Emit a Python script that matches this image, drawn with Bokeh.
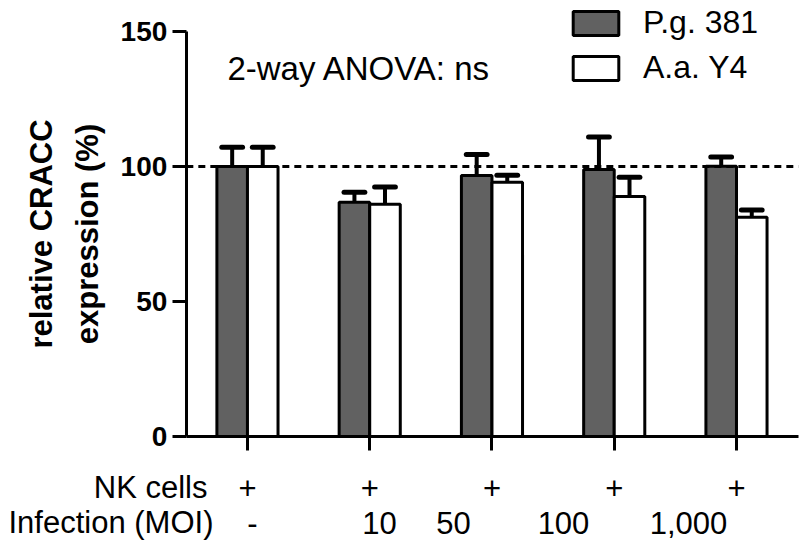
from bokeh.plotting import figure
from bokeh.models import LinearAxis, FixedTicker, ColumnDataSource, Range1d
from bokeh.core.properties import value
from bokeh.embed import file_html
from bokeh.resources import INLINE

# ---- data ----
groups = [0, 1, 2, 3, 4]
nk_labels = ["+", "+", "+", "+", "+"]
moi_labels = ["-", "10", "50", "100", "1,000"]
moi_label_pos = [0.04, 1.08, 1.685, 2.585, 3.607]
row_titles = ["NK cells", "Infection (MOI)"]
row_title_pos = [-0.327, -0.278]
pg_mean = [100, 86.8, 96.7, 98.9, 100.1]
pg_err = [7.1, 3.7, 7.7, 12.0, 3.4]
aa_mean = [100, 86.0, 94.2, 88.9, 81.2]
aa_err = [7.1, 6.4, 2.6, 7.1, 2.7]
y_ticks = [0, 50, 100, 150]
ref_level = 100
series_names = ["P.g. 381", "A.a. Y4"]
anova_text = "2-way ANOVA: ns"

FONT = "Liberation Sans"
DARK = "#616161"
BW = 0.25
CAP = 0.17
AX_X = (-0.5, 4.507)      # x-axis extent (data units)
AX_Y = (0, 150)           # y-axis extent (data units)

p = figure(width=802, height=555, output_backend="svg", toolbar_location=None,
           x_range=Range1d(-2.02, 4.54), y_range=Range1d(-44.07, 161.48),
           x_axis_type=None, y_axis_type=None,
           min_border_left=0, min_border_right=0, min_border_top=0, min_border_bottom=0)
p.outline_line_color = None
p.grid.visible = False

x_pg = [g - BW / 2 for g in groups]
x_aa = [g + BW / 2 for g in groups]

src_pg = ColumnDataSource(dict(x=x_pg, top=pg_mean, err=[m + e for m, e in zip(pg_mean, pg_err)],
                               cl=[x - CAP / 2 for x in x_pg], cr=[x + CAP / 2 for x in x_pg]))
src_aa = ColumnDataSource(dict(x=x_aa, top=aa_mean, err=[m + e for m, e in zip(aa_mean, aa_err)],
                               cl=[x - CAP / 2 for x in x_aa], cr=[x + CAP / 2 for x in x_aa]))

p.vbar(x="x", top="top", width=BW, bottom=0, source=src_pg, fill_color=DARK,
       line_color="black", line_width=3, legend_label=series_names[0])
p.vbar(x="x", top="top", width=BW, bottom=0, source=src_aa, fill_color="white",
       line_color="black", line_width=3, legend_label=series_names[1])

for src in (src_pg, src_aa):
    p.segment(x0="x", y0="top", x1="x", y1="err", source=src, line_color="black", line_width=4)
    p.segment(x0="cl", y0="err", x1="cr", y1="err", source=src, line_color="black",
              line_width=5, line_cap="round")

# dashed reference line at 100 %
p.line(x=list(AX_X), y=[ref_level, ref_level], line_color="black", line_width=3, line_dash="7 5")

# ---- axes (drawn at fixed data locations) ----
yax = LinearAxis(fixed_location=AX_X[0], bounds=AX_Y, ticker=FixedTicker(ticks=y_ticks))
xax = LinearAxis(fixed_location=AX_Y[0], bounds=AX_X, ticker=FixedTicker(ticks=groups))
for ax in (xax, yax):
    ax.axis_line_width = 3
    ax.major_tick_line_width = 3
    ax.major_tick_out = 14
    ax.major_tick_in = 0
    ax.minor_tick_line_color = None

xax.major_label_overrides = {g: "" for g in groups}
xax.major_label_standoff = 0
xax.major_label_text_font_size = "8px"

yax.major_label_text_font = FONT
yax.major_label_text_font_style = "bold"
yax.major_label_text_font_size = "28px"
yax.major_label_text_color = "black"
yax.major_label_standoff = 5
yax.axis_label = "relative CRACC\nexpression (%)"
yax.axis_label_text_font = FONT
yax.axis_label_text_font_style = "bold"
yax.axis_label_text_font_size = "31px"
yax.axis_label_text_color = "black"
yax.axis_label_text_line_height = 1.3
yax.axis_label_standoff = 13

p.add_layout(yax, "left")
p.add_layout(xax, "below")

# ---- legend ----
lg = p.legend[0]
lg.location = (567, 469)
lg.border_line_color = None
lg.background_fill_alpha = 0
lg.padding = 0
lg.margin = 0
lg.glyph_width = 57
lg.glyph_height = 30
lg.label_height = 30
lg.spacing = 8
lg.label_standoff = 19
lg.label_text_font = FONT
lg.label_text_font_size = "32px"
lg.label_text_color = "black"
lg.label_text_baseline = "middle"

# ---- texts ----
p.text(x=[-0.164], y=[136.3], text=[anova_text], text_font=value(FONT), text_font_size="33px",
       text_align="left", text_baseline="middle", text_color="black")

ROW_Y = [-18.9, -31.85]
p.text(x=row_title_pos, y=ROW_Y, text=row_titles, text_font=value(FONT), text_font_size="31px",
       text_align="right", text_baseline="middle", text_color="black")
p.text(x=groups, y=[ROW_Y[0]] * len(groups), text=nk_labels, text_font=value(FONT),
       text_font_size="31px", text_align="center", text_baseline="middle", text_color="black")
p.text(x=moi_label_pos, y=[ROW_Y[1]] * len(moi_labels), text=moi_labels, text_font=value(FONT),
       text_font_size="31px", text_align="center", text_baseline="middle", text_color="black")

open("out.html", "w").write(file_html(p, INLINE))
